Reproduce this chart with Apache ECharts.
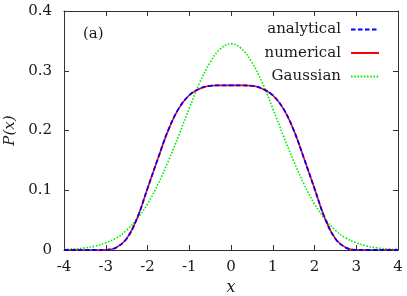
<!DOCTYPE html>
<html><head><meta charset="utf-8">
<script src="https://cdn.jsdelivr.net/npm/echarts@6/dist/echarts.min.js"></script>
<style>html,body{margin:0;padding:0;background:#fff}#c{width:407px;height:296px}</style>
</head><body><div id="c"></div>
<script>
const xValues = [-4,-3.75,-3.5,-3.25,-3,-2.75,-2.5,-2.25,-2,-1.75,-1.5,-1.25,-1,-0.75,-0.5,-0.25,0,0.25,0.5,0.75,1,1.25,1.5,1.75,2,2.25,2.5,2.75,3,3.25,3.5,3.75,4];
const analytical = [0,0,0,0,0.0003,0.004,0.019,0.053,0.103,0.153,0.201,0.237,0.259,0.270,0.2748,0.2755,0.2756,0.2755,0.2748,0.270,0.259,0.237,0.201,0.153,0.103,0.053,0.019,0.004,0.0003,0,0,0,0];
const numerical  = [0,0,0,0,0.0003,0.004,0.019,0.053,0.103,0.153,0.201,0.237,0.259,0.270,0.2748,0.2755,0.2756,0.2755,0.2748,0.270,0.259,0.237,0.201,0.153,0.103,0.053,0.019,0.004,0.0003,0,0,0,0];
const gaussian   = [0.0009,0.0018,0.0035,0.0066,0.012,0.020,0.033,0.052,0.077,0.110,0.149,0.192,0.237,0.280,0.314,0.337,0.345,0.337,0.314,0.280,0.237,0.192,0.149,0.110,0.077,0.052,0.033,0.020,0.012,0.0066,0.0035,0.0018,0.0009];
const xTicks = [-4,-3,-2,-1,0,1,2,3,4];
const yTicks = [0,0.1,0.2,0.3,0.4];
const seriesNames = ['analytical','numerical','Gaussian'];

const pairs = ys => xValues.map((x,i)=>[x, ys[i]]);
const font = 'DejaVu Serif';
const axisCol = '#333';
const txt = '#1a1a1a';
const chart = echarts.init(document.getElementById('c'));
const baseX = {type:'value', min:xTicks[0], max:xTicks[xTicks.length-1], interval:1,
  axisLine:{show:true,onZero:false,lineStyle:{color:axisCol,width:1}},
  axisTick:{show:true,inside:true,length:5,lineStyle:{color:axisCol}},
  splitLine:{show:false}};
const baseY = {type:'value', min:yTicks[0], max:yTicks[yTicks.length-1], interval:0.1,
  axisLine:{show:true,onZero:false,lineStyle:{color:axisCol,width:1}},
  axisTick:{show:true,inside:true,length:5,lineStyle:{color:axisCol}},
  splitLine:{show:false}};
chart.setOption({
  animation:false,
  grid:{left:64,right:9,top:11,bottom:46,containLabel:false,outerBoundsMode:'none'},
  title:{text:'(a)',left:78,top:22,textStyle:{fontFamily:font,fontSize:15,fontWeight:'normal',color:txt}},
  legend:{orient:'vertical',right:22,top:17,align:'right',itemWidth:28,itemHeight:14,itemGap:8.5,
    data:seriesNames,
    itemStyle:{opacity:0,borderWidth:0},
    textStyle:{fontFamily:font,fontSize:15,color:txt,padding:[0,5,0,0]}},
  xAxis:[
    Object.assign({},baseX,{position:'bottom',name:'x',nameLocation:'middle',nameGap:24,
      nameTextStyle:{fontFamily:font,fontSize:16,fontStyle:'italic',color:txt},
      axisLabel:{fontFamily:font,fontSize:15,color:txt,margin:10,formatter:v=>String(v)}}),
    Object.assign({},baseX,{position:'top',axisLabel:{show:false}})
  ],
  yAxis:[
    Object.assign({},baseY,{position:'left',name:'P(x)',nameLocation:'middle',nameGap:38,nameRotate:90,
      nameTextStyle:{fontFamily:font,fontSize:15,fontStyle:'italic',color:txt},
      axisLabel:{fontFamily:font,fontSize:15,color:txt,margin:12,formatter:v=>v===0?'0':v.toFixed(1)}}),
    Object.assign({},baseY,{position:'right',axisLabel:{show:false}})
  ],
  series:[
    {name:'numerical',type:'line',data:pairs(numerical),smooth:0.4,symbol:'none',z:3,
      lineStyle:{color:'#ff0000',width:1.6,type:'solid'},itemStyle:{color:'#ff0000'}},
    {name:'analytical',type:'line',data:pairs(analytical),smooth:0.4,symbol:'none',z:4,
      lineStyle:{color:'#0000ff',width:1.8,type:[4.5,2.5]},itemStyle:{color:'#0000ff'}},
    {name:'Gaussian',type:'line',data:pairs(gaussian),smooth:0.4,symbol:'none',z:2,
      lineStyle:{color:'#00ee00',width:1.6,type:[1.6,1.6]},itemStyle:{color:'#00ee00'}}
  ]
});
</script></body></html>
